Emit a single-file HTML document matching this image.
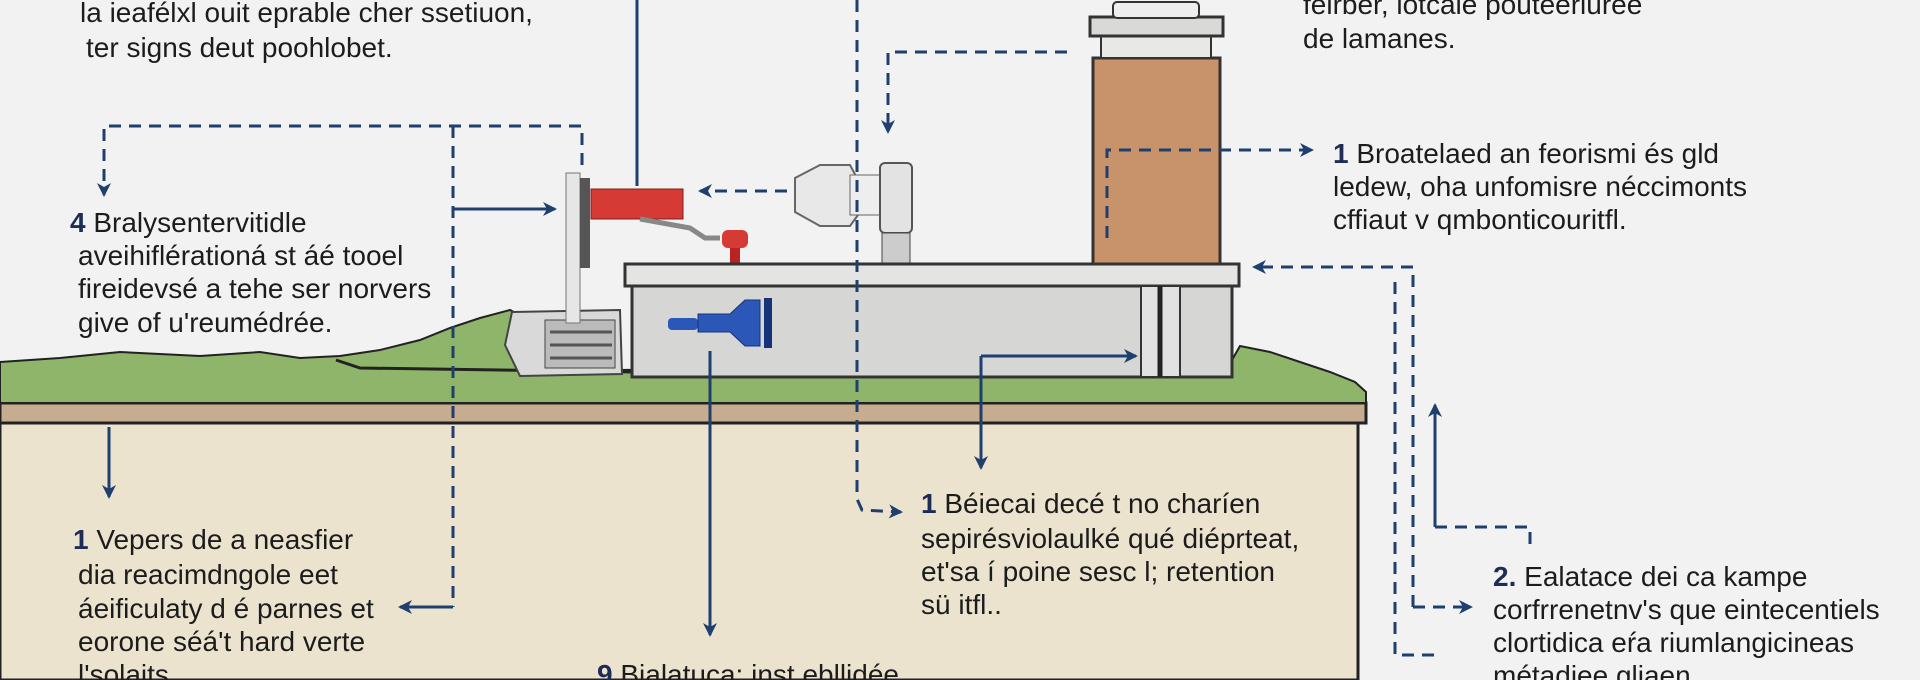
<!DOCTYPE html>
<html><head><meta charset="utf-8"><style>
html,body{margin:0;padding:0;background:#f1f2f1;}
svg{display:block}
text{font-family:"Liberation Sans",sans-serif;font-size:28px;fill:#1c1c1c;}
.b{font-weight:bold;fill:#1e2d55;}
</style></head><body>
<svg width="1920" height="680" viewBox="0 0 1920 680" xmlns="http://www.w3.org/2000/svg">
<defs>
<marker id="a" markerWidth="14" markerHeight="14" refX="12" refY="7" orient="auto" markerUnits="userSpaceOnUse"><path d="M0,0 L14,7 L0,14 L4,7 Z" fill="#1f3f6e"/></marker>
</defs>
<rect width="1920" height="680" fill="#f1f2f1"/>
<!-- soil -->
<rect x="0" y="420" width="1358" height="260" fill="#ece3cf" stroke="#222" stroke-width="3"/>
<rect x="0" y="403" width="1366" height="20" fill="#c7ad8f" stroke="#222" stroke-width="3"/>
<!-- grass -->
<path d="M0,362 L60,358 L120,352 L200,356 L260,352 L300,358 L340,356 L380,350 L420,340 L450,328 L480,318 L510,310 L620,370 L1232,360 L1240,346 L1270,352 L1300,362 L1330,372 L1355,382 L1366,392 L1366,403 L0,403 Z" fill="#8fb56a" stroke="#222" stroke-width="2"/>
<path d="M336,360 L360,368 L640,372" fill="none" stroke="#222" stroke-width="3"/>
<!-- machine -->
<path d="M512,312 L620,310 L622,374 L520,376 L505,345 Z" fill="#d9d9d9" stroke="#444" stroke-width="2"/>
<rect x="545" y="320" width="70" height="48" fill="#bbb" stroke="#444"/>
<line x1="550" y1="332" x2="612" y2="332" stroke="#555" stroke-width="3"/>
<line x1="550" y1="345" x2="612" y2="345" stroke="#555" stroke-width="3"/>
<line x1="550" y1="358" x2="612" y2="358" stroke="#555" stroke-width="3"/>
<rect x="566" y="173" width="14" height="150" fill="#e6e6e6" stroke="#777"/>
<rect x="580" y="178" width="10" height="90" fill="#555"/>
<rect x="591" y="189" width="92" height="30" fill="#d53a35" stroke="#7a1e1c"/>
<path d="M640,219 L690,228 L705,238 L720,238" fill="none" stroke="#888" stroke-width="5"/>
<rect x="722" y="230" width="26" height="18" rx="6" fill="#d53a35"/>
<rect x="730" y="248" width="10" height="15" fill="#b22"/>
<!-- white valve -->
<path d="M795,178 L820,165 L850,165 L858,180 L858,215 L850,226 L820,226 L795,212 Z" fill="#e8e8e8" stroke="#666" stroke-width="2"/>
<rect x="850" y="175" width="35" height="40" fill="#eee" stroke="#666"/>
<rect x="880" y="163" width="32" height="70" rx="5" fill="#e3e3e3" stroke="#555" stroke-width="2"/>
<rect x="882" y="233" width="28" height="32" fill="#ccc" stroke="#444"/>
<!-- slab -->
<rect x="632" y="282" width="600" height="95" fill="#d6d6d4" stroke="#333" stroke-width="3"/>
<rect x="625" y="264" width="614" height="22" fill="#e4e4e2" stroke="#333" stroke-width="3"/>
<rect x="1141" y="286" width="39" height="91" fill="#e1e1e1" stroke="#333" stroke-width="2"/>
<line x1="1160" y1="286" x2="1160" y2="377" stroke="#222" stroke-width="5"/>
<!-- blue component -->
<rect x="668" y="318" width="30" height="12" rx="4" fill="#2a57b8"/>
<path d="M698,314 L730,314 L745,300 L760,300 L760,346 L745,346 L730,332 L698,332 Z" fill="#2a57b8" stroke="#16337a"/>
<rect x="764" y="298" width="8" height="50" fill="#16337a"/>
<!-- chimney -->
<rect x="1093" y="58" width="127" height="206" fill="#c8926a" stroke="#333" stroke-width="3"/>
<rect x="1101" y="35" width="110" height="23" fill="#e8e8e6" stroke="#333" stroke-width="2"/>
<rect x="1090" y="17" width="133" height="19" fill="#d9d9d7" stroke="#333" stroke-width="3"/>
<rect x="1113" y="2" width="86" height="16" rx="4" fill="#eee" stroke="#333" stroke-width="2"/>
<!-- connectors -->
<g fill="none" stroke="#1f3f6e" stroke-width="3">
<line x1="637" y1="0" x2="637" y2="175"/>
<line x1="109" y1="427" x2="109" y2="497" marker-end="url(#a)"/>
<line x1="710" y1="351" x2="710" y2="635" marker-end="url(#a)"/>
<polyline points="981,356 1136,356" marker-end="url(#a)"/>
<line x1="981" y1="356" x2="981" y2="468" marker-end="url(#a)"/>
<polyline points="453,209 555,209" marker-end="url(#a)"/>
<polyline points="453,607 400,607" marker-end="url(#a)"/>
<polyline points="1435,527 1435,405" marker-end="url(#a)"/>
</g>
<g fill="none" stroke="#1f3f6e" stroke-width="3" stroke-dasharray="12,8">
<polyline points="582,165 582,126 104,126 104,195" marker-end="url(#a)"/>
<polyline points="453,126 453,607"/>
<polyline points="637,175 637,186"/>
<polyline points="857,0 857,499 862,510 901,512" marker-end="url(#a)"/>
<polyline points="1067,52 888,52 888,132" marker-end="url(#a)"/>
<polyline points="787,191 700,191" marker-end="url(#a)"/>
<polyline points="1107,238 1107,150 1312,150" marker-end="url(#a)"/>
<polyline points="1413,607 1413,267 1254,267" marker-end="url(#a)"/>
<polyline points="1413,607 1471,607" marker-end="url(#a)"/>
<polyline points="1395,282 1395,655 1438,655"/>
<polyline points="1435,527 1530,527 1530,549"/>
</g>
<!-- text -->
<text x="80" y="22">la ieafélxl ouit eprable cher ssetiuon,</text>
<text x="86" y="57">ter signs deut poohlobet.</text>
<text x="70" y="232"><tspan class="b">4</tspan> Bralysentervitidle</text>
<text x="78" y="265">aveihiflérationá st áé tooel</text>
<text x="78" y="298">fireidevsé a tehe ser norvers</text>
<text x="78" y="332">give of u'reumédrée.</text>
<text x="73" y="549"><tspan class="b">1</tspan> Vepers de a neasfier</text>
<text x="78" y="584">dia reacimdngole eet</text>
<text x="78" y="618">áeificulaty d é parnes et</text>
<text x="78" y="651">eorone séá't hard verte</text>
<text x="78" y="684">l'solaits.</text>
<text x="597" y="684"><tspan class="b">9</tspan> Bialatuca: inst.ebllidée</text>
<text x="921" y="513"><tspan class="b">1</tspan> Béiecai decé t no charíen</text>
<text x="921" y="548">sepirésviolaulké qué diéprteat,</text>
<text x="921" y="581">et'sa í poine sesc l; retention</text>
<text x="921" y="614">sü itfl..</text>
<text x="1303" y="14">feirber, lotcale pouteeriuree</text>
<text x="1303" y="48">de lamanes.</text>
<text x="1333" y="163"><tspan class="b">1</tspan> Broatelaed an feorismi és gld</text>
<text x="1333" y="196">ledew, oha unfomisre néccimonts</text>
<text x="1333" y="229">cffiaut v qmbonticouritfl.</text>
<text x="1493" y="586"><tspan class="b">2.</tspan> Ealatace dei ca kampe</text>
<text x="1493" y="619">corfrrenetnv's que eintecentiels</text>
<text x="1493" y="652">clortidica eŕa riumlangicineas</text>
<text x="1493" y="685">métadiee gliaen</text>
</svg>
</body></html>
